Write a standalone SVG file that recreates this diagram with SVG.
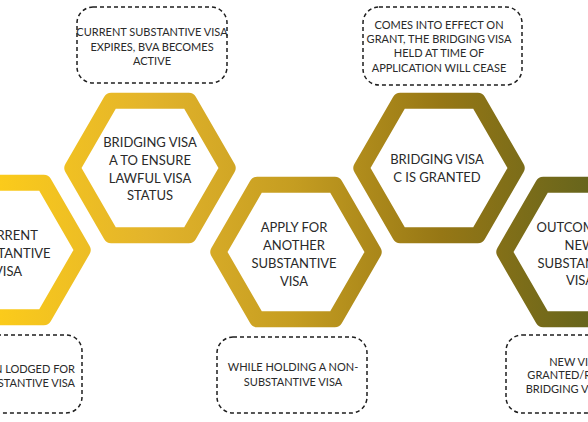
<svg xmlns="http://www.w3.org/2000/svg" width="588" height="422" viewBox="0 0 588 422">
<defs>
<linearGradient id="g" gradientUnits="userSpaceOnUse" x1="0" y1="0" x2="588" y2="0">
<stop offset="0" stop-color="#FBCB1B"/>
<stop offset="0.25" stop-color="#E3B42B"/>
<stop offset="0.5" stop-color="#C59D21"/>
<stop offset="0.75" stop-color="#967715"/>
<stop offset="1" stop-color="#67651C"/>
</linearGradient>
</defs>
<style>
.hx{fill:#fff;stroke:url(#g);stroke-width:16;stroke-linejoin:round}
.ht{font-family:Lato,"Liberation Sans",sans-serif;font-size:13px;fill:#2a2a2a;text-anchor:middle}
.bx{fill:#fff;stroke:#1e1e1e;stroke-width:1.5;stroke-dasharray:4 3}
.bt{font-family:Lato,"Liberation Sans",sans-serif;font-size:11px;fill:#2a2a2a;text-anchor:middle}
</style>
<rect width="588" height="422" fill="#fff"/>
<g id="connectors"></g>
<g id="hex1">
<path class="hx" d="M-72.7 250 L-33.85 182.7 L43.85 182.7 L82.7 250 L43.85 317.3 L-33.85 317.3 Z"/>
<text class="ht" x="8" y="240">CURRENT</text>
<text class="ht" x="8" y="258">SUBSTANTIVE</text>
<text class="ht" x="8" y="275.5">VISA</text>
</g>
<g id="hex2">
<path class="hx" d="M72.3 168 L111.15 100.7 L188.85 100.7 L227.7 168 L188.85 235.3 L111.15 235.3 Z"/>
<text class="ht" x="150" y="146.5">BRIDGING VISA</text>
<text class="ht" x="150" y="164.5">A TO ENSURE</text>
<text class="ht" x="150" y="183">LAWFUL VISA</text>
<text class="ht" x="150" y="200">STATUS</text>
</g>
<g id="hex3">
<path class="hx" d="M218.3 252 L257.15 184.7 L334.85 184.7 L373.7 252 L334.85 319.3 L257.15 319.3 Z"/>
<text class="ht" x="294" y="231.5">APPLY FOR</text>
<text class="ht" x="294" y="249.5">ANOTHER</text>
<text class="ht" x="294" y="267.5">SUBSTANTIVE</text>
<text class="ht" x="294" y="285.5">VISA</text>
</g>
<g id="hex4">
<path class="hx" d="M361.3 168 L400.15 100.7 L477.85 100.7 L516.7 168 L477.85 235.3 L400.15 235.3 Z"/>
<text class="ht" x="437" y="164">BRIDGING VISA</text>
<text class="ht" x="437" y="182">C IS GRANTED</text>
</g>
<g id="hex5">
<path class="hx" d="M504.3 252 L543.15 184.7 L620.85 184.7 L659.7 252 L620.85 319.3 L543.15 319.3 Z"/>
<text class="ht" x="580" y="231.5">OUTCOME OF</text>
<text class="ht" x="580" y="249.5">NEW</text>
<text class="ht" x="580" y="267.5">SUBSTANTIVE</text>
<text class="ht" x="580" y="285">VISA</text>
</g>
<g id="note1">
<rect class="bx" x="-68" y="335" width="150" height="78" rx="16"/>
<text class="bt" x="75" y="373" style="text-anchor:end">APPLICATION LODGED FOR</text>
<text class="bt" x="75" y="386.5" style="text-anchor:end">ANOTHER SUBSTANTIVE VISA</text>
</g>
<g id="note2">
<rect class="bx" x="77" y="7" width="150" height="76" rx="16"/>
<text class="bt" x="152" y="36">CURRENT SUBSTANTIVE VISA</text>
<text class="bt" x="152" y="51">EXPIRES, BVA BECOMES</text>
<text class="bt" x="152" y="65">ACTIVE</text>
</g>
<g id="note3">
<rect class="bx" x="217" y="337" width="150" height="76" rx="16"/>
<text class="bt" x="293" y="371">WHILE HOLDING A NON-</text>
<text class="bt" x="293" y="385.5">SUBSTANTIVE VISA</text>
</g>
<g id="note4">
<rect class="bx" x="363" y="7" width="159" height="78" rx="16"/>
<text class="bt" x="439" y="29">COMES INTO EFFECT ON</text>
<text class="bt" x="439" y="43">GRANT, THE BRIDGING VISA</text>
<text class="bt" x="439" y="57">HELD AT TIME OF</text>
<text class="bt" x="439" y="71.5">APPLICATION WILL CEASE</text>
</g>
<g id="note5">
<rect class="bx" x="506" y="335" width="150" height="78" rx="16"/>
<text class="bt" x="581" y="365.5">NEW VISA IS</text>
<text class="bt" x="581" y="379">GRANTED/REFUSED,</text>
<text class="bt" x="581" y="393">BRIDGING VISA ENDS</text>
</g>
</svg>
